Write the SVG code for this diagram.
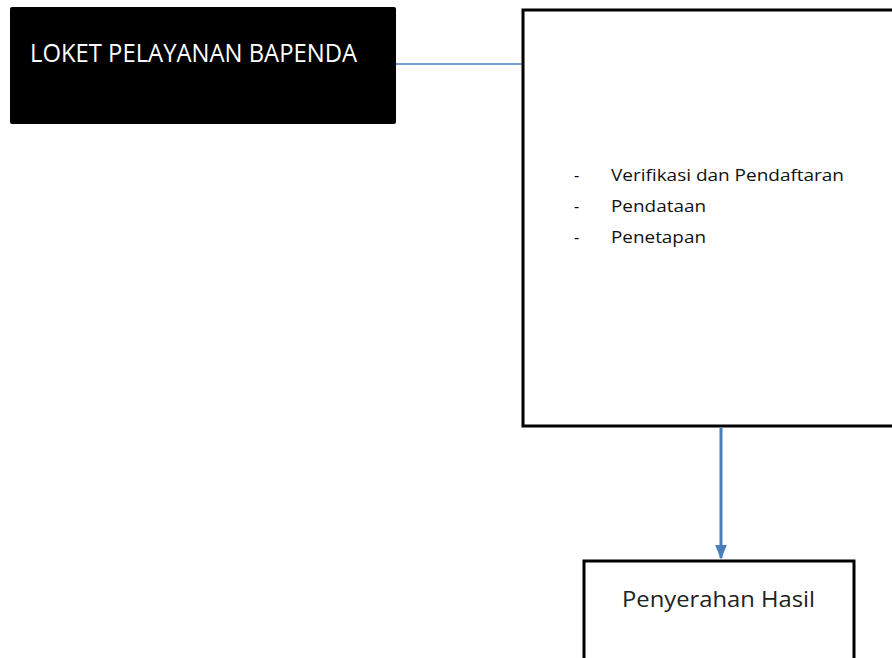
<svg xmlns="http://www.w3.org/2000/svg" width="892" height="658" viewBox="0 0 892 658">
<defs>
<style>
.t{font-family:"Open Sans","Liberation Sans",sans-serif;}
.box{fill:#fff;stroke:#000;stroke-width:3;}
</style>
<marker id="ah" markerWidth="5" markerHeight="4" refX="4.5" refY="2" orient="auto" markerUnits="strokeWidth">
<path d="M0,0 L5,2 L0,4 Z" fill="#4a7ebb"/>
</marker>
</defs>
<rect width="892" height="658" fill="#fff"/>
<g id="connectors">
<line x1="396" y1="64" x2="522" y2="64" stroke="#4a7ebb" stroke-width="1.5"/>
<line x1="721" y1="428" x2="721" y2="558" stroke="#4a7ebb" stroke-width="3" marker-end="url(#ah)"/>
</g>
<g id="loket">
<rect x="10" y="7" width="386" height="117" rx="2" fill="#000"/>
<text class="t" x="30" y="62" font-size="25" fill="#fff" textLength="327" lengthAdjust="spacingAndGlyphs">LOKET PELAYANAN BAPENDA</text>
</g>
<g id="proses">
<rect class="box" x="523" y="10" width="380" height="416"/>
<text class="t" x="574" y="181" font-size="16" fill="#000">-</text>
<text class="t" x="611" y="181" font-size="16" fill="#111" textLength="233" lengthAdjust="spacingAndGlyphs">Verifikasi dan Pendaftaran</text>
<text class="t" x="574" y="212" font-size="16" fill="#000">-</text>
<text class="t" x="611" y="212" font-size="16" fill="#111" textLength="95" lengthAdjust="spacingAndGlyphs">Pendataan</text>
<text class="t" x="574" y="243" font-size="16" fill="#000">-</text>
<text class="t" x="611" y="243" font-size="16" fill="#111" textLength="95" lengthAdjust="spacingAndGlyphs">Penetapan</text>
</g>
<g id="penyerahan">
<rect class="box" x="584" y="561" width="270" height="110"/>
<text class="t" x="622" y="607" font-size="21" fill="#222" textLength="193" lengthAdjust="spacingAndGlyphs">Penyerahan Hasil</text>
</g>
</svg>
